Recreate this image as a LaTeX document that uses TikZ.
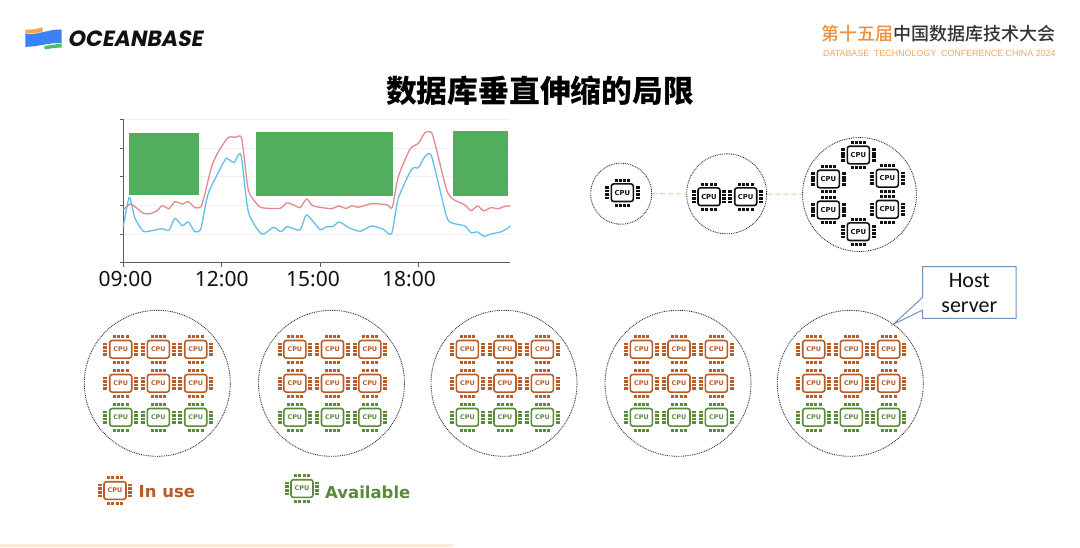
\documentclass[tikz,border=0pt]{standalone}
\usepackage{fontspec}
\setmainfont{Liberation Sans}
\newfontfamily\cjk{Noto Sans CJK SC}
\newfontfamily\cjkmed{Noto Sans CJK SC Medium}
\newfontfamily\axisfont{Noto Sans}
\newfontfamily\boxfont{Carlito}
\newfontfamily\legfont{DejaVu Sans}
\newfontfamily\logofont[FakeSlant=0.18]{Poppins}
\definecolor{brn}{HTML}{B85C28}
\definecolor{grn}{HTML}{5A8A3A}
\definecolor{blk}{HTML}{111111}
\definecolor{orng}{HTML}{F0903C}
\definecolor{dgray}{HTML}{333333}
\definecolor{rline}{HTML}{E08B90}
\definecolor{bline}{HTML}{62BFE8}
\definecolor{gblock}{HTML}{52AE5E}
\definecolor{link}{HTML}{F5C9A5}
\definecolor{calloutc}{HTML}{7492B8}
\definecolor{flagb}{HTML}{3B82F6}
\definecolor{flagg}{HTML}{4CC35A}
\definecolor{flago}{HTML}{F5A742}
\tikzset{
  x=1pt,y=-1pt,
  pics/cpu/.style 2 args={code={
    \draw[#1,line width=1.6pt,rounded corners=2.4pt] (-11,-8.8) rectangle (11,8.8);
    \foreach \p in {-6.3,-2.1,2.1,6.3}{
      \fill[#1] (\p-1.5,-14.2) rectangle (\p+1.5,-11.2);
      \fill[#1] (\p-1.5,11.2) rectangle (\p+1.5,14.2);
    }
    \foreach \p in {-5.4,-1.8,1.8,5.4}{
      \fill[#1] (-17.4,\p-1.35) rectangle (-13.4,\p+1.35);
      \fill[#1] (13.4,\p-1.35) rectangle (17.4,\p+1.35);
    }
    \node[text=#1,inner sep=0pt,font=\legfont#2] at (0,0) {CPU};
  }},
  host/.style={circle,draw=blk!85,line width=.9pt,dash pattern=on .9pt off .9pt,inner sep=0pt,minimum size=#1},
  hop/.style={draw=link,line width=1pt,dash pattern=on 5pt off 3pt},
  axisline/.style={draw=dgray!80,line width=.9pt},
  gridl/.style={draw=black!6,line width=.8pt},
  block/.style={fill=gblock,draw=white,line width=.5pt},
  ticklab/.style={font=\axisfont\fontsize{21}{21}\selectfont,text=blk,inner sep=0pt},
  legendt/.style={font=\legfont\bfseries\fontsize{16.5}{18}\selectfont,inner sep=0pt,anchor=west},
}
\newcommand{\smallcolor}{\bfseries\fontsize{6.4}{7}\selectfont}
\newcommand{\smallblack}{\bfseries\fontsize{6.8}{7}\selectfont}
\begin{document}
\begin{tikzpicture}
\useasboundingbox (0,0) rectangle (1080,547);
\fill[white] (0,0) rectangle (1080,547);
% bottom band
\fill[orng!20] (0,544) rectangle (453,547);
% logo
\fill[flago] (25.3,29.5) .. controls (32,30) and (37,29) .. (42.7,27.3) -- (42.7,31.6) .. controls (37,33) and (32,33.5) .. (25.3,33.4) -- cycle;
\fill[flagb] (25.3,33.6) .. controls (38,35.5) and (48,29) .. (61.7,29.5) -- (61.7,43.3) .. controls (50,42) and (38,47) .. (25.3,46.8) -- cycle;
\fill[flagg] (44.3,46) .. controls (50,45.5) and (56,44) .. (61.7,43.6) -- (61.7,47.6) .. controls (56,47.5) and (50,48.5) .. (44.7,49.5) -- cycle;
\node[font=\logofont\bfseries\fontsize{22}{22}\selectfont,text=blk,inner sep=0pt,anchor=west] (logo) at (67.5,38.6) {OCEANBASE};
% conference
\node[font=\cjkmed\fontsize{18}{18}\selectfont,inner sep=0pt,anchor=west,text=dgray] (conf) at (821.5,34) {\textcolor{orng}{第十五届}中国数据库技术大会};
\node[font=\fontsize{8.87}{10}\selectfont,inner sep=0pt,anchor=west,text=orng!80] (confen) at (823,53) {DATABASE\ \ TECHNOLOGY\ \ CONFERENCE CHINA 2024};
% title
\node[font=\cjk\bfseries\fontsize{30.8}{32}\selectfont,inner sep=0pt,text=black] (title) at (540,91) {数据库垂直伸缩的局限};
% chart
\foreach \y in {119,148,176.5,205,234}{
  \draw[gridl] (123.5,\y) -- (510,\y);
  \draw[axisline] (119.5,\y) -- (123.5,\y);
}
\draw[axisline] (119.5,262.5) -- (510,262.5);
\draw[axisline] (123.5,118.5) -- (123.5,267);
\foreach \x in {221.7,320,418}{\draw[axisline] (\x,262.5) -- (\x,267);}
\begin{scope}[shift={(100,110)},x=0.3333pt,y=-0.3333pt]
\draw[rline,line width=1.3pt,line join=round] plot[smooth,tension=0.4] coordinates {(70,300)(90,282)(105,290)(130,310)(150,311)(170,303)(187,287)(207,296)(225,275)(247,282)(265,275)(285,293)(303,290)(315,250)(335,170)(355,125)(385,82)(405,82)(423,79)(430,120)(445,240)(465,275)(485,293)(540,295)(560,279)(580,284)(600,293)(620,267)(640,288)(695,296)(715,288)(738,295)(757,287)(775,292)(815,281)(860,284)(877,292)(895,200)(930,118)(955,100)(975,68)(995,68)(1010,120)(1040,240)(1060,268)(1095,285)(1113,302)(1133,288)(1152,303)(1172,293)(1195,296)(1215,289)(1232,288)};
\draw[bline,line width=1.3pt,line join=round] plot[smooth,tension=0.4] coordinates {(70,350)(88,262)(105,325)(130,364)(150,363)(187,356)(207,361)(225,325)(247,347)(265,336)(285,365)(303,355)(325,250)(375,150)(385,148)(403,157)(423,135)(445,305)(485,372)(520,352)(543,365)(562,350)(600,360)(620,315)(660,358)(680,350)(698,350)(718,336)(745,352)(780,364)(815,348)(850,358)(875,371)(895,265)(935,178)(955,173)(975,140)(995,140)(1040,320)(1060,340)(1095,348)(1113,368)(1133,366)(1152,379)(1172,372)(1205,365)(1232,348)};
\end{scope}
\path[block] (128.7,132.3) rectangle (199.3,195.3);
\path[block] (255.3,131) rectangle (393.3,196.7);
\path[block] (452.7,130.7) rectangle (508,196);
\node[ticklab] (t9) at (125.5,279) {09:00};
\node[ticklab] (t12) at (221.7,279) {12:00};
\node[ticklab] (t15) at (313,279) {15:00};
\node[ticklab] (t18) at (409,279) {18:00};
% scale-up hosts
\node[host=61pt] (a) at (621.2,193.7) {};
\node[host=80pt] (b) at (726.7,193.8) {};
\node[host=114pt] (c) at (859.5,194.5) {};
\draw[hop] (a) -- (b);
\draw[hop] (b) -- (c);
\pic at (622.3,192.7) {cpu={blk}{\smallblack}};
\pic at (709,196.7) {cpu={blk}{\smallblack}};
\pic at (745.7,196.7) {cpu={blk}{\smallblack}};
\foreach \p/\q in {858.3/155,828.3/179,887.3/178.3,828.3/210,887.3/209.3,858.3/231.7}
  \pic at (\p,\q) {cpu={blk}{\smallblack}};
% five hosts
\foreach \n/\cx in {1/157.3,2/331.5,3/504,4/678,5/850.3}{
  \node[host=146pt] (h\n) at (\cx,383.3) {};
  \foreach \dx in {-36.6,1,38.4}{
    \pic at (\cx+\dx,349.3) {cpu={brn}{\smallcolor}};
    \pic at (\cx+\dx,383.3) {cpu={brn}{\smallcolor}};
    \pic at (\cx+\dx,417.3) {cpu={grn}{\smallcolor}};
  }
}
% callout
\coordinate (tip) at (893.3,324.3);
\draw[calloutc,fill=white,line width=1pt,line join=miter]
  (922.7,266.7) -- (1016,266.7) -- (1016,318.3) -- (922.7,318.3) -- (922.7,310) -- (tip) -- (922.7,297.3) -- cycle;
\node[font=\boxfont\fontsize{22}{25}\selectfont,align=center,inner sep=0pt,text=blk] (hostlab) at (969.3,293.5) {Host\\server};
% legend
\pic at (115,490.5) {cpu={brn}{\smallcolor}};
\node[legendt,text=brn] (inuse) at (138.5,492) {In use};
\pic at (302,488.5) {cpu={grn}{\smallcolor}};
\node[legendt,text=grn] (avail) at (325,492) {Available};
\end{tikzpicture}
\end{document}
